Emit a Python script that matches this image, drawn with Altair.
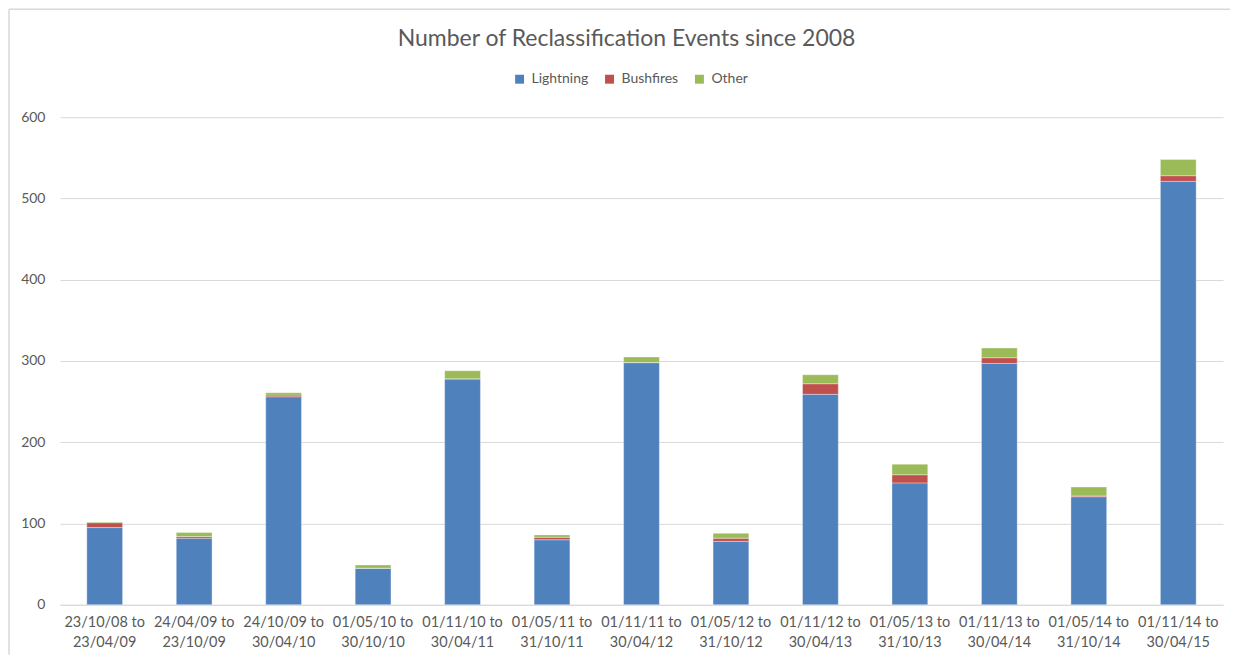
import altair as alt
import pandas as pd

periods = [
    "23/10/08 to 23/04/09", "24/04/09 to 23/10/09", "24/10/09 to 30/04/10",
    "01/05/10 to 30/10/10", "01/11/10 to 30/04/11", "01/05/11 to 31/10/11",
    "01/11/11 to 30/04/12", "01/05/12 to 31/10/12", "01/11/12 to 30/04/13",
    "01/05/13 to 31/10/13", "01/11/13 to 30/04/14", "01/05/14 to 31/10/14",
    "01/11/14 to 30/04/15",
]
lightning = [95, 82, 256, 45, 278, 80, 298, 78, 259, 150, 297, 133, 521]
bushfires = [6, 2, 2, 0, 0, 3, 0, 4, 13, 10, 7, 1, 7]
other = [1, 5, 3, 4, 10, 3, 7, 6, 11, 13, 12, 11, 20]

series = ["Lightning", "Bushfires", "Other"]
colors = ["#4F81BD", "#C0504D", "#9BBB59"]
title_text = "Number of Reclassification Events since 2008"

rows = []
for i, p in enumerate(periods):
    for k, (name, vals) in enumerate(zip(series, [lightning, bushfires, other])):
        rows.append({"Period": p, "Series": name, "Value": vals[i], "idx": k})
df = pd.DataFrame(rows)

FONT = "Lato"
GREY = "#595959"

bars = alt.Chart(df).mark_bar(stroke="white", strokeWidth=0.6, strokeOpacity=0.6).encode(
    x=alt.X("Period:N", sort=periods, title=None,
            scale=alt.Scale(paddingInner=0.6, paddingOuter=0.3),
            axis=alt.Axis(labelAngle=0, labelExpr="[slice(datum.label,0,11), slice(datum.label,12)]",
                          labelFont=FONT, labelFontSize=14.5, labelColor=GREY, labelLineHeight=20,
                          labelPadding=11, ticks=False, tickSize=0, domainColor="#D9D9D9",
                          domainWidth=1, grid=False)),
    y=alt.Y("Value:Q", stack="zero", title=None,
            scale=alt.Scale(domain=[0, 600], nice=False),
            axis=alt.Axis(values=[0, 100, 200, 300, 400, 500, 600], labelFont=FONT,
                          labelFontSize=14, labelColor=GREY, labelPadding=15, ticks=False,
                          tickSize=0, domain=False, gridColor="#D9D9D9", gridWidth=1)),
    color=alt.Color("Series:N", scale=alt.Scale(domain=series, range=colors),
                    legend=alt.Legend(title=None, orient="none", legendX=453, legendY=-45,
                                      direction="horizontal", symbolType="square",
                                      symbolSize=80, symbolStrokeWidth=0, labelFont=FONT,
                                      labelFontSize=14, labelColor=GREY, labelOffset=5,
                                      columnPadding=14)),
    order=alt.Order("idx:Q", sort="ascending"),
)

one = alt.Data(values=[{"t": title_text}])

title = alt.Chart(one).mark_text(font=FONT, fontSize=23, color=GREY, align="center",
                                 baseline="middle").encode(
    text="t:N", x=alt.value(567), y=alt.value(-78)
)
left_border = alt.Chart(one).mark_rule(color="#D9D9D9", strokeWidth=1.5).encode(
    x=alt.value(-51), y=alt.value(-108), y2=alt.value(538)
)
top_border = alt.Chart(one).mark_rule(color="#D9D9D9", strokeWidth=1.5).encode(
    x=alt.value(-51), x2=alt.value(1171), y=alt.value(-108)
)

chart = alt.layer(bars, title, left_border, top_border).properties(
    width=1164, height=488,
    padding=0,
).configure(background="white").configure_view(stroke=None)

chart.save("out.html", embed_options={"renderer": "svg", "actions": False})
